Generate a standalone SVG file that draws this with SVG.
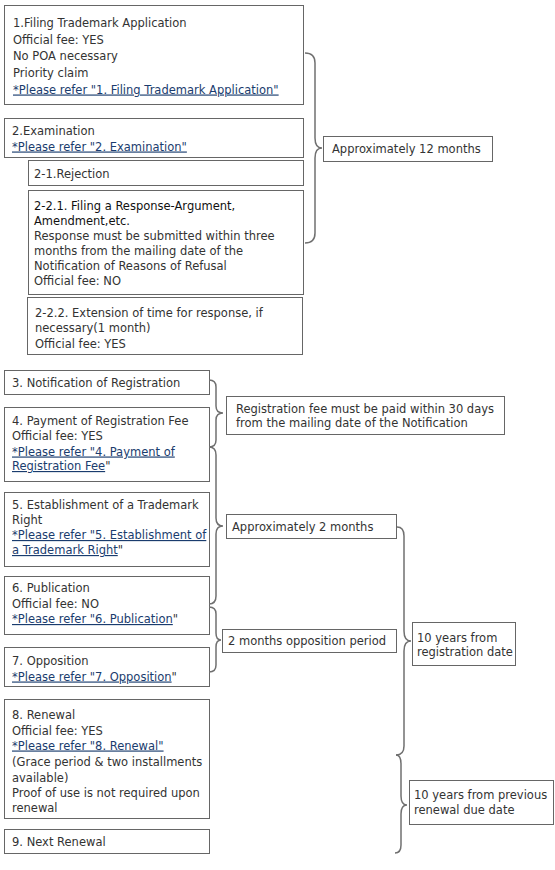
<svg xmlns="http://www.w3.org/2000/svg" width="555" height="870" viewBox="0 0 555 870">
<style>
  .box { fill: #ffffff; stroke: #666666; stroke-width: 1; }
  .t { font-family: "DejaVu Sans", Verdana, sans-serif; font-size: 11.5px; fill: #333333; }
  .h { fill: #111111; }
  .lk { fill: #1a3c6e; text-decoration: underline; }
  .br { fill: none; stroke: #707070; stroke-width: 1.5; }
</style>
<rect width="555" height="870" fill="#ffffff"/>

<g id="n1">
  <rect class="box" x="4.5" y="5.5" width="299" height="99"/>
  <text class="t" x="13" y="27">1.Filing Trademark Application</text>
  <text class="t" x="13" y="43.5">Official fee: YES</text>
  <text class="t" x="13" y="60">No POA necessary</text>
  <text class="t" x="13" y="76.5">Priority claim</text>
  <text class="t" x="13" y="93.5"><tspan class="lk">*Please refer "1. Filing Trademark Application"</tspan></text>
</g>

<g id="n2">
  <rect class="box" x="4.5" y="118.5" width="299" height="39"/>
  <text class="t" x="12" y="134.5">2.Examination</text>
  <text class="t" x="12" y="150.5"><tspan class="lk">*Please refer "2. Examination"</tspan></text>
</g>

<g id="n2-1">
  <rect class="box" x="28.5" y="160.5" width="275" height="25"/>
  <text class="t" x="34" y="178">2-1.Rejection</text>
</g>

<g id="n2-2-1">
  <rect class="box" x="28.5" y="190.5" width="275" height="104"/>
  <text class="t h" x="34" y="210">2-2.1. Filing a Response-Argument,</text>
  <text class="t h" x="34" y="225">Amendment,etc.</text>
  <text class="t" x="34" y="240">Response must be submitted within three</text>
  <text class="t" x="34" y="255">months from the mailing date of the</text>
  <text class="t" x="34" y="270">Notification of Reasons of Refusal</text>
  <text class="t" x="34" y="285">Official fee: NO</text>
</g>

<g id="n2-2-2">
  <rect class="box" x="27.5" y="297.5" width="275" height="57"/>
  <text class="t" x="35" y="317">2-2.2. Extension of time for response, if</text>
  <text class="t" x="35" y="332">necessary(1 month)</text>
  <text class="t" x="35" y="347.5">Official fee: YES</text>
</g>

<g id="n3">
  <rect class="box" x="4.5" y="370.5" width="205" height="24"/>
  <text class="t" x="12" y="386.5">3. Notification of Registration</text>
</g>

<g id="n4">
  <rect class="box" x="4.5" y="407.5" width="205" height="74"/>
  <text class="t" x="12" y="424.5">4. Payment of Registration Fee</text>
  <text class="t" x="12" y="440">Official fee: YES</text>
  <text class="t" x="12" y="455.5"><tspan class="lk">*Please refer "4. Payment of</tspan></text>
  <text class="t" x="12" y="470"><tspan class="lk">Registration Fee</tspan>"</text>
</g>

<g id="n5">
  <rect class="box" x="4.5" y="492.5" width="205" height="74"/>
  <text class="t" x="12" y="508.5">5. Establishment of a Trademark</text>
  <text class="t" x="12" y="523.5">Right</text>
  <text class="t" x="12" y="539"><tspan class="lk">*Please refer "5. Establishment of</tspan></text>
  <text class="t" x="12" y="554"><tspan class="lk">a Trademark Right</tspan>"</text>
</g>

<g id="n6">
  <rect class="box" x="4.5" y="576.5" width="205" height="58"/>
  <text class="t" x="12" y="591.5">6. Publication</text>
  <text class="t" x="12" y="607.5">Official fee: NO</text>
  <text class="t" x="12" y="623"><tspan class="lk">*Please refer "6. Publication</tspan>"</text>
</g>

<g id="n7">
  <rect class="box" x="4.5" y="647.5" width="205" height="39"/>
  <text class="t" x="12" y="665">7. Opposition</text>
  <text class="t" x="12" y="680.5"><tspan class="lk">*Please refer "7. Opposition</tspan>"</text>
</g>

<g id="n8">
  <rect class="box" x="4.5" y="699.5" width="205" height="119"/>
  <text class="t" x="12" y="719">8. Renewal</text>
  <text class="t" x="12" y="734.5">Official fee: YES</text>
  <text class="t" x="12" y="749.5"><tspan class="lk">*Please refer "8. Renewal"</tspan></text>
  <text class="t" x="12" y="765.5">(Grace period &amp; two installments</text>
  <text class="t" x="12" y="781.5">available)</text>
  <text class="t" x="12" y="797">Proof of use is not required upon</text>
  <text class="t" x="12" y="812">renewal</text>
</g>

<g id="n9">
  <rect class="box" x="4.5" y="829.5" width="205" height="24"/>
  <text class="t" x="12" y="846">9. Next Renewal</text>
</g>

<g id="l1">
  <rect class="box" x="323.5" y="136.5" width="169" height="25"/>
  <text class="t" x="332" y="152.5">Approximately 12 months</text>
</g>

<g id="l2">
  <rect class="box" x="226.5" y="396.5" width="278" height="38"/>
  <text class="t" x="236" y="412.5">Registration fee must be paid within 30 days</text>
  <text class="t" x="236" y="427">from the mailing date of the Notification</text>
</g>

<g id="l3">
  <rect class="box" x="226.5" y="514.5" width="170" height="24"/>
  <text class="t" x="232" y="531">Approximately 2 months</text>
</g>

<g id="l4">
  <rect class="box" x="222.5" y="629.5" width="174" height="23"/>
  <text class="t" x="228" y="645">2 months opposition period</text>
</g>

<g id="l5">
  <rect class="box" x="412.5" y="622.5" width="103" height="43"/>
  <text class="t" x="417" y="641.5">10 years from</text>
  <text class="t" x="417" y="656">registration date</text>
</g>

<g id="l6">
  <rect class="box" x="409.5" y="780.5" width="144" height="44"/>
  <text class="t" x="414" y="798.5">10 years from previous</text>
  <text class="t" x="414" y="813.5">renewal due date</text>
</g>

<g id="connectors">
  <path class="br" d="M305,53 Q315,53 315,63 L315,138 Q315,148 322,148 Q315,148 315,158 L315,233 Q315,243 305,243"/>
  <path class="br" d="M209,380 Q216,380 216,387 L216,406 Q216,413 223,413 Q216,413 216,420 L216,440 Q216,447 209,447"/>
  <path class="br" d="M209,447 Q216,447 216,455 L216,518 Q216,526 223,526 Q216,526 216,534 L216,596 Q216,604 209,604"/>
  <path class="br" d="M209,607 Q216,607 216,614 L216,633 Q216,640 221,640 Q216,640 216,647 L216,665 Q216,672 209,672"/>
  <path class="br" d="M397,527 Q404,527 404,536 L404,631 Q404,641 411,641 Q404,641 404,651 L404,746 Q404,755 396,755"/>
  <path class="br" d="M396,755 Q401,755 401,764 L401,796 Q401,805 407,805 Q401,805 401,814 L401,845 Q401,853 395,853"/>
</g>
</svg>
